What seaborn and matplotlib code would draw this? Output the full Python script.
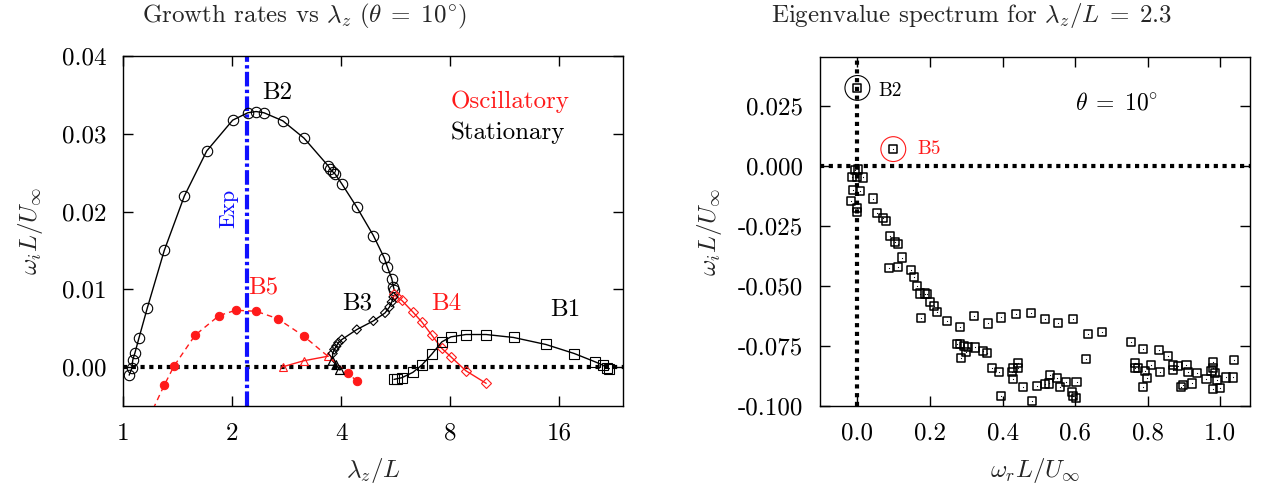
import numpy as np
import pandas as pd
import seaborn as sns
import matplotlib
matplotlib.use("Agg")
import matplotlib.pyplot as plt
from matplotlib.ticker import NullLocator, FixedLocator, FixedFormatter

# ---------------- growth-rate branches (left panel) ----------------
b2_lam = [1.04, 1.057, 1.064, 1.079, 1.107, 1.167, 1.30, 1.477, 1.703, 2.008, 2.21,
          2.33, 2.45, 2.76, 3.16, 3.68, 3.73, 3.79, 3.85, 4.02, 4.42, 4.91, 5.26,
          5.37, 5.52, 5.58, 5.61]
b2_rate = [-0.00103, -0.00017, 0.0009, 0.00184, 0.00376, 0.0076, 0.0150, 0.0220,
           0.0278, 0.03175, 0.0327, 0.03286, 0.0327, 0.03167, 0.02944, 0.0259,
           0.02547, 0.02513, 0.02483, 0.02355, 0.02056, 0.01692, 0.01406, 0.01286,
           0.01137, 0.0103, 0.00987]

b3_lam = [5.58, 5.52, 5.44, 5.29, 4.91, 4.42, 4.02, 3.93, 3.88, 3.83, 3.79,
          3.79, 3.88, 3.97]
b3_rate = [0.00902, 0.00837, 0.00773, 0.00697, 0.00594, 0.00483, 0.00355, 0.00312,
           0.00269, 0.00226, 0.00175, 0.0008, 0.00026, -0.00038]
b3_kind = ["d"] * 11 + ["t"] * 3

b4_lam = [5.61, 5.70, 5.88, 6.31, 6.68, 7.12, 7.59, 8.04, 8.84, 10.06]
b4_rate = [0.00944, 0.00902, 0.00859, 0.00709, 0.00581, 0.0041, 0.0024, 0.00132,
           -0.00047, -0.00209]

osc_tri_lam = [2.76, 3.15, 3.69]
osc_tri_rate = [0.00004, 0.00081, 0.00141]

b5_lam = [1.18, 1.30, 1.383, 1.581, 1.841, 2.047, 2.33, 2.67, 3.15, 4.17, 4.42]
b5_rate = [-0.0065, -0.00231, 0.00013, 0.0041, 0.00662, 0.00731, 0.00718, 0.00624,
           0.00401, -0.00073, -0.0018]

b1_lam = [5.60, 5.70, 5.88, 6.31, 6.68, 7.12, 7.59, 8.04, 8.84, 10.06, 11.97, 14.70,
          17.6, 20.1, 21.1, 21.7, 22.0]
b1_rate = [-0.00158, -0.0015, -0.00137, -0.00068, 0.00026, 0.00167, 0.00325, 0.00389,
           0.00419, 0.00419, 0.00381, 0.00291, 0.00175, 0.00068, 0.00026, -0.00008,
           -0.0002]

exp_lam = 2.2
lam_ticks = [1, 2, 4, 8, 16]
lam_ticklabels = ["1", "2", "4", "8", "16"]
rate_ticks = [0.0, 0.01, 0.02, 0.03, 0.04]
rate_ticklabels = ["0.00", "0.01", "0.02", "0.03", "0.04"]

# ---------------- eigenvalue spectrum (right panel) ----------------
spec_wr = [-0.0064, 0.0028, -0.0156, -0.0018, 0.0147, -0.011, 0.0073, -0.0018, 0.0,
           -0.0184, 0.0441, 0.0551, 0.0698, 0.079, 0.090, 0.1038, 0.113, 0.123,
           0.0863, 0.111, 0.147, 0.156, 0.165, 0.173, 0.186, 0.193, 0.200, 0.212,
           0.2185, 0.176, 0.248, 0.283, 0.321, 0.361, 0.397, 0.437, 0.4775, 0.517,
           0.554, 0.593, 0.635, 0.673, 0.274, 0.283, 0.294, 0.306, 0.324, 0.299,
           0.347, 0.356, 0.285, 0.370, 0.390, 0.427, 0.430, 0.442, 0.4435, 0.430,
           0.457, 0.397, 0.482, 0.494, 0.517, 0.529, 0.531, 0.551, 0.558, 0.575,
           0.592, 0.595, 0.602, 0.604, 0.629, 0.753, 0.788, 0.832, 0.855, 0.765,
           0.765, 0.774, 0.792, 0.797, 0.786, 0.808, 0.834, 0.870, 0.870, 0.884,
           0.907, 0.912, 0.898, 0.893, 0.921, 0.935, 0.962, 0.981, 0.979, 0.976,
           0.985, 0.990, 0.999, 0.981, 1.016, 1.034, 1.038]
spec_wi = [-0.00167, -0.00139, -0.00444, -0.00444, -0.00472, -0.0100, -0.0103,
           -0.0176, -0.0190, -0.0146, -0.0135, -0.0194, -0.0218, -0.0228, -0.0292,
           -0.0315, -0.0325, -0.0381, -0.0426, -0.0422, -0.0433, -0.0464, -0.0500,
           -0.0531, -0.0531, -0.0533, -0.0565, -0.0582, -0.0607, -0.0635, -0.0646,
           -0.0669, -0.0625, -0.0656, -0.0631, -0.0617, -0.0611, -0.0639, -0.0653,
           -0.0636, -0.0699, -0.0693, -0.0742, -0.0743, -0.0750, -0.0753, -0.0756,
           -0.0774, -0.0769, -0.0778, -0.0799, -0.0842, -0.0860, -0.0860, -0.0843,
           -0.0822, -0.0843, -0.0889, -0.0922, -0.0960, -0.0978, -0.0917, -0.0910,
           -0.0906, -0.0871, -0.0882, -0.0919, -0.0901, -0.0940, -0.0958, -0.0965,
           -0.0899, -0.0804, -0.0735, -0.0764, -0.0768, -0.0790, -0.0822, -0.0843,
           -0.0840, -0.0853, -0.0885, -0.0921, -0.0829, -0.0857, -0.0829, -0.0850,
           -0.0833, -0.0829, -0.0857, -0.0913, -0.0919, -0.0906, -0.0864, -0.0889,
           -0.0815, -0.0843, -0.0853, -0.0864, -0.0892, -0.0926, -0.0931, -0.0881,
           -0.0881, -0.0808]
b2_mode = (0.0, 0.0326)
b5_mode = (0.099, 0.0071)
wr_ticks = [0.0, 0.2, 0.4, 0.6, 0.8, 1.0]
wr_ticklabels = ["0.0", "0.2", "0.4", "0.6", "0.8", "1.0"]
wi_ticks = [-0.100, -0.075, -0.050, -0.025, 0.0, 0.025]
wi_ticklabels = ["-0.100", "-0.075", "-0.050", "-0.025", "0.000", "0.025"]

# ---------------- style ----------------
sns.set_theme(style="ticks")
plt.rcParams.update({
    "font.family": "serif",
    "font.serif": ["cmr10", "DejaVu Serif"],
    "mathtext.fontset": "cm",
    "axes.unicode_minus": False,
    "axes.formatter.use_mathtext": True,
    "axes.edgecolor": "black",
    "axes.linewidth": 1.0,
    "xtick.color": "black",
    "ytick.color": "black",
})
FS = 18
RED = "#ff1a1a"
BLUE = "#1010ff"

fig = plt.figure(figsize=(12.68, 4.97), dpi=100)
axL = fig.add_axes([123 / 1268, 91 / 497, 500 / 1268, 350 / 497])
axR = fig.add_axes([820 / 1268, 91 / 497, 430 / 1268, 349 / 497])

DOT = (0, (1.0, 1.1))

# ---------------- left panel ----------------
axL.set_xscale("log", base=2)
axL.axhline(0, color="black", lw=3, ls=DOT, zorder=1)
axL.axvline(exp_lam, color=BLUE, lw=3, dashes=(3.5, 0.8, 0.8, 0.8), zorder=2)

sns.lineplot(x=b2_lam, y=b2_rate, ax=axL, sort=False, estimator=None, color="black",
             lw=1, marker="o", markersize=7.5, markerfacecolor="none",
             markeredgecolor="black", markeredgewidth=0.8, zorder=3)

sns.lineplot(x=b3_lam, y=b3_rate, ax=axL, sort=False, estimator=None, color="black",
             lw=1, zorder=3)
b3_df = pd.DataFrame({"lam": b3_lam, "rate": b3_rate, "kind": b3_kind})
sns.scatterplot(data=b3_df[b3_df.kind == "d"], x="lam", y="rate", ax=axL, marker="D",
                s=22, facecolor="none", edgecolor="black", linewidth=0.8, zorder=4)
sns.scatterplot(data=b3_df[b3_df.kind == "t"], x="lam", y="rate", ax=axL, marker="^",
                s=40, facecolor="none", edgecolor="black", linewidth=0.9, zorder=4)

sns.lineplot(x=b4_lam, y=b4_rate, ax=axL, sort=False, estimator=None, color=RED,
             lw=1, marker="D", markersize=5.5, markerfacecolor="none",
             markeredgecolor=RED, markeredgewidth=0.8, zorder=3)

sns.lineplot(x=osc_tri_lam, y=osc_tri_rate, ax=axL, sort=False, estimator=None,
             color=RED, lw=1, marker="^", markersize=6, markerfacecolor="none",
             markeredgecolor=RED, markeredgewidth=0.8, zorder=3)

sns.lineplot(x=b5_lam, y=b5_rate, ax=axL, sort=False, estimator=None, color=RED,
             lw=1, linestyle=(0, (4, 3)), marker="o", markersize=6,
             markerfacecolor=RED, markeredgecolor=RED, zorder=3)

sns.lineplot(x=b1_lam, y=b1_rate, ax=axL, sort=False, estimator=None, color="black",
             lw=1, marker="s", markersize=7, markerfacecolor="none",
             markeredgecolor="black", markeredgewidth=0.8, zorder=3)

axL.set_xlim(1, 24)
axL.set_ylim(-0.005, 0.04)
axL.xaxis.set_major_locator(FixedLocator(lam_ticks))
axL.xaxis.set_major_formatter(FixedFormatter(lam_ticklabels))
axL.xaxis.set_minor_locator(NullLocator())
axL.yaxis.set_major_locator(FixedLocator(rate_ticks))
axL.yaxis.set_major_formatter(FixedFormatter(rate_ticklabels))
axL.yaxis.set_minor_locator(NullLocator())

axL.text(2.66, 0.0352, "B2", fontsize=FS, ha="center", va="center", color="black")
axL.text(2.44, 0.0103, "B5", fontsize=FS, ha="center", va="center", color=RED)
axL.text(4.44, 0.00817, "B3", fontsize=FS, ha="center", va="center", color="black")
axL.text(7.80, 0.00817, "B4", fontsize=FS, ha="center", va="center", color=RED)
axL.text(16.6, 0.0074, "B1", fontsize=FS, ha="center", va="center", color="black")
axL.text(1.96, 0.0204, "Exp", fontsize=16, ha="center", va="center", rotation=90,
         color=BLUE)
axL.text(0.656, 0.87, "Oscillatory", transform=axL.transAxes, fontsize=FS,
         ha="left", va="center", color=RED)
axL.text(0.656, 0.78, "Stationary", transform=axL.transAxes, fontsize=FS,
         ha="left", va="center", color="black")

axL.set_xlabel(r"$\lambda_z/L$", fontsize=FS, labelpad=8)
axL.set_ylabel(r"$\omega_i L/U_\infty$", fontsize=FS, labelpad=12)

# ---------------- right panel ----------------
axR.axhline(0, color="black", lw=3, ls=DOT, zorder=1)
axR.axvline(0, color="black", lw=3, ls=DOT, zorder=1)

sns.scatterplot(x=spec_wr, y=spec_wi, ax=axR, marker="s", s=34, facecolor="none",
                edgecolor="black", linewidth=1.1, zorder=3)
sns.scatterplot(x=spec_wr, y=spec_wi, ax=axR, marker=".", s=3, color="black",
                linewidth=0, zorder=4)

modes = pd.DataFrame({"wr": [b2_mode[0], b5_mode[0]], "wi": [b2_mode[1], b5_mode[1]]})
sns.scatterplot(data=modes, x="wr", y="wi", ax=axR, marker="s", s=34, facecolor="none",
                edgecolor="black", linewidth=1.1, zorder=3)
sns.scatterplot(data=modes, x="wr", y="wi", ax=axR, marker=".", s=3, color="black",
                linewidth=0, zorder=4)
sns.scatterplot(x=[b2_mode[0]], y=[b2_mode[1]], ax=axR, marker="o", s=320,
                facecolor="none", edgecolor="black", linewidth=0.8, zorder=3)
sns.scatterplot(x=[b5_mode[0]], y=[b5_mode[1]], ax=axR, marker="o", s=320,
                facecolor="none", edgecolor=RED, linewidth=0.8, zorder=3)

axR.text(0.058, 0.0312, "B2", fontsize=14, ha="left", va="center", color="black")
axR.text(0.165, 0.0071, "B5", fontsize=14, ha="left", va="center", color=RED)
axR.text(0.60, 0.026, r"$\theta\;=\;10^{\circ}$", fontsize=17, ha="left", va="center",
         color="black")

axR.set_xlim(-0.103, 1.082)
axR.set_ylim(-0.1, 0.0455)
axR.xaxis.set_major_locator(FixedLocator(wr_ticks))
axR.xaxis.set_major_formatter(FixedFormatter(wr_ticklabels))
axR.yaxis.set_major_locator(FixedLocator(wi_ticks))
axR.yaxis.set_major_formatter(FixedFormatter(wi_ticklabels))
axR.xaxis.set_minor_locator(NullLocator())
axR.yaxis.set_minor_locator(NullLocator())
axR.set_xlabel(r"$\omega_r L/U_\infty$", fontsize=FS, labelpad=8)
axR.set_ylabel(r"$\omega_i L/U_\infty$", fontsize=FS, labelpad=10)

for ax in (axL, axR):
    ax.tick_params(axis="both", which="major", direction="in", length=7, width=1,
                   top=True, right=True, labelsize=FS, pad=12)
    for sp in ax.spines.values():
        sp.set_visible(True)
        sp.set_color("black")
        sp.set_linewidth(1.0)

fig.text(304 / 1268, 1 - 16 / 497,
         r"Growth rates vs $\lambda_z$ $(\theta\;=\;10^{\circ})$",
         fontsize=FS, ha="center", va="center")
fig.text(971 / 1268, 1 - 16 / 497,
         r"Eigenvalue spectrum for $\lambda_z/L\;=\;2.3$",
         fontsize=FS, ha="center", va="center")

fig.savefig("out.png", dpi=100, facecolor="white")
